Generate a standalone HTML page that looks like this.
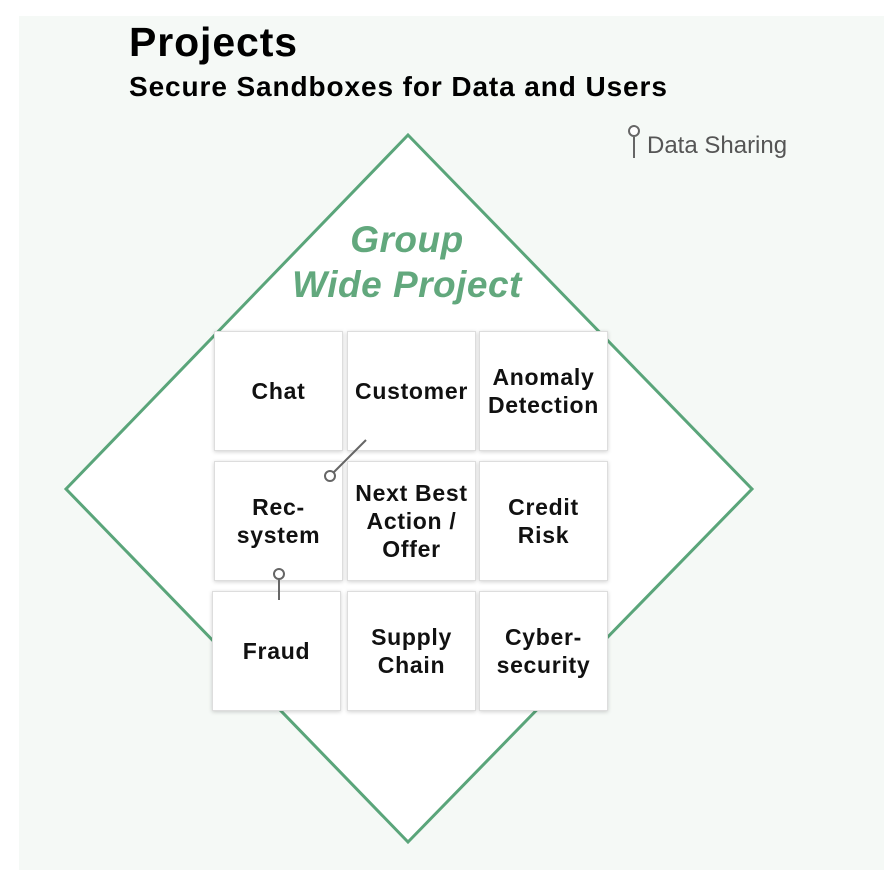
<!DOCTYPE html>
<html><head><meta charset="utf-8"><style>
body{margin:0;width:896px;height:890px;background:#fff;overflow:hidden;font-family:"Liberation Sans",Arial,sans-serif}
.box{position:absolute;width:127px;height:118px;background:#fff;border:1px solid #ddd;box-shadow:0 1px 4px rgba(0,0,0,.18);display:flex;align-items:center;justify-content:center;text-align:center;font-weight:bold;font-size:23px;letter-spacing:0.7px;line-height:28px;color:#111}
</style></head><body>
<div style="position:absolute;left:19px;top:16px;width:865px;height:854px;background:#f5f9f6"></div>
<svg style="position:absolute;left:0;top:0" width="896" height="890">
<polygon points="408,135 752,489 408,842 66,489" fill="#fff" stroke="#5aa57a" stroke-width="3"/>
<text x="407" y="252" text-anchor="middle" font-family="Liberation Sans" font-size="37" font-weight="bold" font-style="italic" letter-spacing="0.5" fill="#62a87d">Group</text>
<text x="407" y="297" text-anchor="middle" font-family="Liberation Sans" font-size="37" font-weight="bold" font-style="italic" letter-spacing="0.5" fill="#62a87d">Wide Project</text>
</svg>
<div style="position:absolute;left:129px;top:19px;font-size:41px;letter-spacing:0.9px;font-weight:bold;color:#000">Projects</div>
<div style="position:absolute;left:129px;top:71px;font-size:28px;letter-spacing:0.9px;font-weight:bold;color:#000">Secure Sandboxes for Data and Users</div>
<div style="position:absolute;left:647px;top:132px;font-size:24px;color:#555">Data Sharing</div>
<div class="box" style="left:214px;top:331px">Chat</div>
<div class="box" style="left:347px;top:331px">Customer</div>
<div class="box" style="left:479px;top:331px">Anomaly<br>Detection</div>
<div class="box" style="left:214px;top:461px">Rec-<br>system</div>
<div class="box" style="left:347px;top:461px">Next Best<br>Action /<br>Offer</div>
<div class="box" style="left:479px;top:461px">Credit<br>Risk</div>
<div class="box" style="left:212px;top:591px">Fraud</div>
<div class="box" style="left:347px;top:591px">Supply<br>Chain</div>
<div class="box" style="left:479px;top:591px">Cyber-<br>security</div>
<svg style="position:absolute;left:0;top:0" width="896" height="890">
<g stroke="#666" stroke-width="2" fill="#fff">
<line x1="366" y1="440" x2="334" y2="472"/><circle cx="330" cy="476" r="5"/>
<line x1="279" y1="579" x2="279" y2="600"/><circle cx="279" cy="574" r="5"/>
<line x1="634" y1="137" x2="634" y2="158"/><circle cx="634" cy="131" r="5"/>
</g></svg>
</body></html>
